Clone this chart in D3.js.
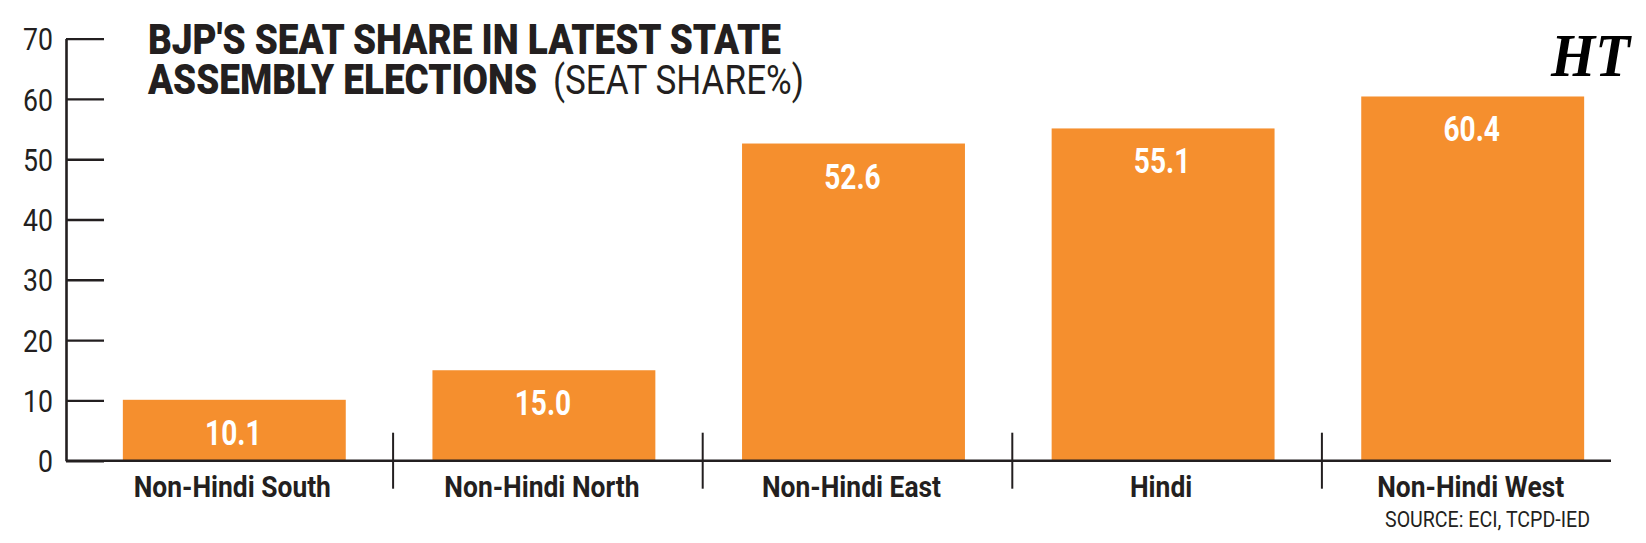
<!DOCTYPE html>
<html>
<head>
<meta charset="utf-8">
<script src="https://cdn.jsdelivr.net/npm/d3@7"></script>
<style>
  body { margin: 0; background: #fff; }
  svg { display: block; }
  text { font-family: Roboto, "Liberation Sans", sans-serif; fill: #231f20; }
</style>
</head>
<body>
<script>
// data
var regions = ['Non-Hindi South', 'Non-Hindi North', 'Non-Hindi East', 'Hindi', 'Non-Hindi West'];
var seatShare = [10.1, 15.0, 52.6, 55.1, 60.4];
var yTicks = [0, 10, 20, 30, 40, 50, 60, 70];

var w = 1646;
var h = 543;
var orange = '#f58f2e';

var data = regions.map((r, i) => ({ region: r, value: seatShare[i] }));

var svg = d3.select('body').append('svg')
  .attr('width', w)
  .attr('height', h);

var y = d3.scaleLinear()
  .domain([0, 70])
  .range([460.7, 38.6]);

var x = d3.scaleBand()
  .domain(regions)
  .range([79.5, 1627.5])
  .paddingInner(0.28)
  .paddingOuter(0.14);

var gap = (x.step() - x.bandwidth()) / 2;

// bars
svg.append('g').selectAll('rect')
  .data(data)
  .enter().append('rect')
    .attr('x', (d) => x(d.region))
    .attr('y', (d) => y(d.value))
    .attr('width', x.bandwidth())
    .attr('height', (d) => y(0) - y(d.value))
    .attr('fill', orange);

// value labels, condensed by a horizontal squeeze
svg.append('g').selectAll('text')
  .data(data)
  .enter().append('text')
    .attr('transform', (d) => 'translate(' + (x(d.region) + x.bandwidth() / 2 - 1) + ',' + (y(d.value) + 45) + ') scale(0.78,1)')
    .attr('text-anchor', 'middle')
    .style('font-size', '36px')
    .style('font-weight', 700)
    .style('fill', '#fff')
    .text((d) => d.value.toFixed(1));

// y axis
var yAxis = svg.append('g')
  .attr('transform', 'translate(66,0)')
  .call(d3.axisLeft(y).tickValues(yTicks).tickSizeInner(-38).tickSizeOuter(0));

yAxis.select('.domain').attr('stroke', '#231f20').attr('stroke-width', 2.6);
yAxis.selectAll('.tick line').attr('stroke', '#231f20').attr('stroke-width', 2.4);
yAxis.selectAll('.tick text')
  .attr('x', null)
  .attr('dy', '0.36em')
  .attr('transform', 'translate(-13,0) scale(0.86,1)')
  .style('font-size', '31px')
  .style('font-family', 'Roboto, sans-serif')
  .style('fill', '#231f20');

// baseline
svg.append('line')
  .attr('x1', 66)
  .attr('x2', 1611)
  .attr('y1', y(0))
  .attr('y2', y(0))
  .attr('stroke', '#231f20')
  .attr('stroke-width', 2.6);

// separators between categories
svg.append('g').selectAll('line')
  .data(regions.slice(0, -1))
  .enter().append('line')
    .attr('x1', (d) => x(d) + x.bandwidth() + gap + 4)
    .attr('x2', (d) => x(d) + x.bandwidth() + gap + 4)
    .attr('y1', y(0) - 28)
    .attr('y2', y(0) + 28)
    .attr('stroke', '#231f20')
    .attr('stroke-width', 2);

// category labels
svg.append('g').selectAll('text')
  .data(regions)
  .enter().append('text')
    .attr('transform', (d) => 'translate(' + (x(d) + x.bandwidth() / 2 - 2) + ',497) scale(0.88,1)')
    .attr('text-anchor', 'middle')
    .style('font-size', '30px')
    .style('font-weight', 700)
    .text((d) => d);

// title
svg.append('text')
  .attr('x', 148)
  .attr('y', 54)
  .attr('textLength', 633)
  .attr('lengthAdjust', 'spacingAndGlyphs')
  .style('font-size', '42px')
  .style('font-weight', 900)
  .text("BJP'S SEAT SHARE IN LATEST STATE");

svg.append('text')
  .attr('x', 148)
  .attr('y', 94)
  .attr('textLength', 389)
  .attr('lengthAdjust', 'spacingAndGlyphs')
  .style('font-size', '42px')
  .style('font-weight', 900)
  .text('ASSEMBLY ELECTIONS');

svg.append('text')
  .attr('x', 553)
  .attr('y', 94)
  .attr('textLength', 251)
  .attr('lengthAdjust', 'spacingAndGlyphs')
  .style('font-size', '41px')
  .style('font-weight', 400)
  .text('(SEAT SHARE%)');

// logo
svg.append('text')
  .attr('x', 1551)
  .attr('y', 76)
  .attr('textLength', 79)
  .attr('lengthAdjust', 'spacingAndGlyphs')
  .style('font-family', '"Liberation Serif", "DejaVu Serif", serif')
  .style('font-size', '62px')
  .style('font-weight', 700)
  .style('font-style', 'italic')
  .style('fill', '#000')
  .text('HT');

// source
svg.append('text')
  .attr('x', 1385)
  .attr('y', 527)
  .attr('textLength', 205)
  .attr('lengthAdjust', 'spacingAndGlyphs')
  .style('font-size', '22px')
  .text('SOURCE: ECI, TCPD-IED');
</script>
</body>
</html>
